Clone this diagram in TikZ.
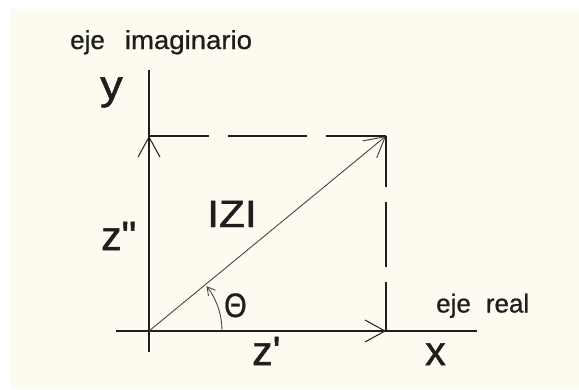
\documentclass[tikz,border=0pt]{standalone}
\usepackage{fontspec}
\setmainfont{Liberation Sans}[Ligatures=TeXOff]
\newfontfamily\heavyfont{Liberation Sans}[Ligatures=TeXOff,FakeBold=1.2]
\newfontfamily\midfont{Liberation Sans}[Ligatures=TeXOff,FakeBold=0.8]
\usetikzlibrary{arrows.meta}
\definecolor{cream}{RGB}{253,251,240}
\definecolor{ink}{RGB}{30,30,30}
\definecolor{vecink}{RGB}{70,70,70}
\begin{document}
\begin{tikzpicture}[x=1pt,y=-1pt,
  axis/.style={draw=ink,line width=1.3pt},
  vec/.style={draw=vecink,line width=0.9pt},
  barb/.style={-{Straight Barb[length=20pt,width=22pt,line width=1pt]}},
  smallbarb/.style={-{Straight Barb[length=8pt,width=9pt,line width=0.9pt]}},
  lbl/.style={inner sep=0pt,anchor=base west,text=ink},
  small/.style={lbl,font=\midfont\fontsize{26}{28}\selectfont},
  big/.style={lbl,font=\heavyfont\fontsize{41}{44}\selectfont}]
\useasboundingbox (0,0) rectangle (579,389);
\fill[cream] (10,9) rectangle (579,389);
% key points
\coordinate (O) at (149,331);
\coordinate (Y) at (149,136);
\coordinate (X) at (386,331);
\coordinate (P) at (386,136);
\coordinate (vtop) at (149,70);
\coordinate (vbot) at (149,352);
\coordinate (hl) at (116,331);
\coordinate (hr) at (477,331);
% axes
\draw[axis] (vbot) -- (vtop);
\draw[axis] (hl) -- (hr);
% component vectors
\draw[axis,barb] (O) -- (Y);
\draw[axis,barb] (O) -- (X);
% modulus vector
\draw[vec,barb] (O) -- (P);
% dashed projections
\draw[axis,dash pattern=on 79pt off 19pt,dash phase=19pt] (Y) -- (P);
\draw[axis,dash pattern=on 65pt off 15pt,dash phase=14pt] (P) -- (X);
% angle
\draw[vec,smallbarb] ([xshift=73pt]O) arc[start angle=0,end angle=-38,radius=73];
% labels
\node[small] (ejeim) at (70,49) {eje\hspace{20pt}\scalebox{1.06}[1]{imaginario}};
\node[big] (ylab) at (100,99) {\scalebox{1.1}[1]{y}};
\node[big] (zpp) at (101,250) {z"};
\node[lbl,font=\heavyfont\fontsize{38}{40}\selectfont] (mod) at (207,227) {\scalebox{1.12}[1]{IZI}};
\node[lbl,font=\midfont\fontsize{34}{36}\selectfont] (th) at (224,317) {\scalebox{0.85}[1]{Θ}};
\node[small] (ejer) at (436,312.5) {eje\hspace{15pt}real};
\node[big] (zp) at (252,365) {z'};
\node[big] (xlab) at (425,365) {x};
\end{tikzpicture}
\end{document}
